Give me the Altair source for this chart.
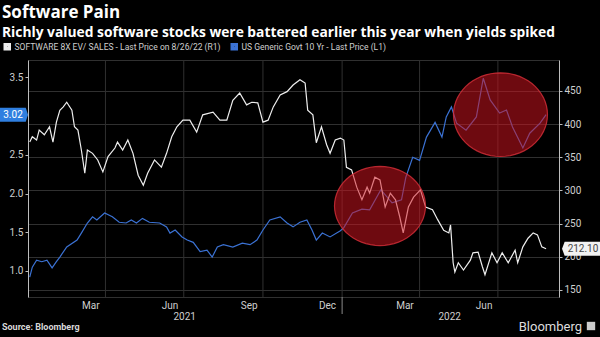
import math
import altair as alt
import pandas as pd

# ---------------- text ----------------
TITLE = "Software Pain"
SUBTITLE = "Richly valued software stocks were battered earlier this year when yields spiked"
SOURCE = "Source: Bloomberg"
BRAND = "Bloomberg"
SERIES = ["SOFTWARE 8X EV/ SALES - Last Price on 8/26/22 (R1)",
          "US Generic Govt 10 Yr - Last Price (L1)"]
COLORS = ["#eeeeee", "#3b72d4"]

# ---------------- data ----------------
soft_dates = [
    "2021-01-03", "2021-01-06", "2021-01-11", "2021-01-14", "2021-01-20", "2021-01-26", "2021-01-30",
    "2021-02-03", "2021-02-07", "2021-02-11", "2021-02-15", "2021-02-21", "2021-02-24", "2021-02-28",
    "2021-03-04", "2021-03-08", "2021-03-11", "2021-03-17", "2021-03-23", "2021-03-29", "2021-04-04",
    "2021-04-12", "2021-04-15", "2021-04-21", "2021-04-27", "2021-05-03", "2021-05-09", "2021-05-15",
    "2021-05-20", "2021-05-28", "2021-06-05", "2021-06-11", "2021-06-17", "2021-06-23", "2021-06-30",
    "2021-07-08", "2021-07-16", "2021-07-23", "2021-08-04", "2021-08-12", "2021-08-20", "2021-08-27",
    "2021-09-04", "2021-09-12", "2021-09-18", "2021-09-25", "2021-10-01", "2021-10-07", "2021-10-13",
    "2021-10-21", "2021-10-29", "2021-11-05", "2021-11-13", "2021-11-19", "2021-11-22", "2021-11-28",
    "2021-12-02", "2021-12-08", "2021-12-14", "2021-12-18", "2021-12-24", "2021-12-30", "2022-01-03",
    "2022-01-06", "2022-01-12", "2022-01-18", "2022-01-24", "2022-01-30", "2022-02-02", "2022-02-08",
    "2022-02-14", "2022-02-20", "2022-02-26", "2022-03-04", "2022-03-09", "2022-03-13", "2022-03-19",
    "2022-03-25", "2022-04-02", "2022-04-08", "2022-04-16", "2022-04-22", "2022-04-29", "2022-05-05",
    "2022-05-07", "2022-05-10", "2022-05-12", "2022-05-16", "2022-05-22", "2022-05-30", "2022-06-02",
    "2022-06-08", "2022-06-13", "2022-06-16", "2022-06-24", "2022-06-30", "2022-07-06", "2022-07-13",
    "2022-07-21", "2022-07-24", "2022-07-30", "2022-08-05", "2022-08-11", "2022-08-16", "2022-08-21",
    "2022-08-26",
]
soft_values = [
    373, 381, 376, 391, 384, 396, 373, 403, 421, 426, 433, 421, 396, 391, 361, 326, 361, 356, 346, 328,
    351, 364, 373, 361, 376, 356, 323, 308, 326, 346, 335, 356, 381, 396, 406, 406, 388, 414, 418, 406,
    406, 436, 447, 429, 433, 432, 403, 406, 426, 444, 449, 459, 467, 462, 421, 414, 372, 396, 369, 356,
    376, 379, 376, 335, 331, 305, 286, 305, 296, 320, 316, 275, 296, 286, 260, 236, 275, 290, 301, 275,
    271, 256, 240, 236, 248, 191, 177, 191, 180, 195, 206, 207, 185, 173, 206, 191, 206, 191, 210, 191,
    215, 228, 236, 233, 215, 212.10,
]

yield_dates = [
    "2021-01-03", "2021-01-06", "2021-01-11", "2021-01-17", "2021-01-23", "2021-01-29", "2021-02-03",
    "2021-02-07", "2021-02-15", "2021-02-27", "2021-03-04", "2021-03-11", "2021-03-17", "2021-03-22",
    "2021-03-31", "2021-04-09", "2021-04-17", "2021-04-25", "2021-05-01", "2021-05-07", "2021-05-14",
    "2021-05-22", "2021-06-03", "2021-06-11", "2021-06-15", "2021-06-21", "2021-06-29", "2021-07-05",
    "2021-07-12", "2021-07-20", "2021-07-28", "2021-08-03", "2021-08-09", "2021-08-16", "2021-08-27",
    "2021-09-07", "2021-09-16", "2021-09-24", "2021-10-01", "2021-10-09", "2021-10-21", "2021-10-29",
    "2021-11-05", "2021-11-13", "2021-11-21", "2021-11-27", "2021-12-02", "2021-12-09", "2021-12-18",
    "2021-12-30", "2022-01-03", "2022-01-13", "2022-01-24", "2022-02-02", "2022-02-15", "2022-02-28",
    "2022-03-11", "2022-03-16", "2022-03-24", "2022-04-01", "2022-04-09", "2022-04-19", "2022-04-27",
    "2022-05-02", "2022-05-08", "2022-05-14", "2022-05-25", "2022-06-06", "2022-06-14", "2022-06-22",
    "2022-07-03", "2022-07-11", "2022-07-18", "2022-07-30", "2022-08-07", "2022-08-19", "2022-08-26",
]
yield_values = [
    0.92, 1.05, 1.14, 1.12, 1.14, 1.04, 1.12, 1.18, 1.31, 1.40, 1.49, 1.62, 1.70, 1.66, 1.75, 1.70,
    1.63, 1.62, 1.66, 1.62, 1.68, 1.63, 1.62, 1.57, 1.49, 1.53, 1.44, 1.40, 1.37, 1.25, 1.27, 1.18,
    1.31, 1.34, 1.31, 1.36, 1.34, 1.40, 1.53, 1.66, 1.70, 1.62, 1.57, 1.63, 1.66, 1.53, 1.40, 1.49,
    1.44, 1.52, 1.56, 1.75, 1.80, 1.79, 2.05, 1.88, 1.92, 2.21, 2.47, 2.43, 2.73, 2.92, 2.73, 2.99,
    3.12, 2.91, 2.82, 2.99, 3.49, 3.21, 3.04, 3.08, 2.86, 2.59, 2.78, 2.91, 3.02,
]

# axis / annotation values
month_ticks = [
    "2021-01-01", "2021-02-01", "2021-03-01", "2021-04-01", "2021-05-01", "2021-06-01", "2021-07-01",
    "2021-08-01", "2021-09-01", "2021-10-01", "2021-11-01", "2021-12-01", "2022-01-01", "2022-02-01",
    "2022-03-01", "2022-04-01", "2022-05-01", "2022-06-01", "2022-07-01", "2022-08-01", "2022-09-01",
]
grid_dates = ["2021-04-01", "2021-07-01", "2021-10-01", "2022-01-01", "2022-04-01", "2022-07-01"]
month_label_dates = ["2021-03-15", "2021-06-15", "2021-09-15", "2021-12-15", "2022-03-15", "2022-06-15"]
month_labels = ["Mar", "Jun", "Sep", "Dec", "Mar", "Jun"]
year_label_dates = ["2021-07-02", "2022-05-06"]
year_labels = ["2021", "2022"]
year_break = ["2022-01-01"]
left_ticks = [1.0, 1.5, 2.0, 2.5, 3.5]
right_ticks = [150, 200, 250, 300, 350, 400, 450]
left_domain = [0.664, 3.726]
right_domain = [139.4, 496.7]
x_domain = ["2021-01-01", "2022-09-10"]
ellipse_dates = ["2022-02-14", "2022-07-04"]
ellipse_values = [1.84, 3.02]

# ---------------- layout ----------------
W, H = 531, 237
PAD = {"left": 28, "top": 60, "right": 41, "bottom": 40}
GRID = "#303030"
AXC = "#bdbdbd"
LBL = "#cfcfcf"


def dt(s):
    y, m, d = (int(p) for p in s.split("-"))
    return alt.DateTime(year=y, month=m, date=d)


xscale = alt.Scale(domain=[dt(d) for d in x_domain], nice=False)
lscale = alt.Scale(domain=left_domain, nice=False, zero=False)
rscale = alt.Scale(domain=right_domain, nice=False, zero=False)


def ellipse_path(ratio, n=60):
    pts = []
    for k in range(n):
        a = 2 * math.pi * k / n
        pts.append(f"{math.cos(a):.4f} {ratio * math.sin(a):.4f}")
    return "M " + " L ".join(pts) + " Z"


legend = alt.Legend(
    title=None, orient="none", legendX=-25, legendY=-18, direction="horizontal",
    symbolType="square", symbolSize=16, symbolStrokeWidth=3.5, labelFont="Roboto",
    labelFontSize=8.5, labelColor=LBL, columnPadding=4, labelLimit=400, padding=0,
    labelOffset=3,
)
color = alt.Color("series:N", scale=alt.Scale(domain=SERIES, range=COLORS), legend=legend)

soft_df = pd.DataFrame({"date": pd.to_datetime(soft_dates), "value": soft_values, "series": SERIES[0]})
yld_df = pd.DataFrame({"date": pd.to_datetime(yield_dates), "value": yield_values, "series": SERIES[1]})

# vertical grid lines
vgrid = alt.Chart(pd.DataFrame({"date": pd.to_datetime(grid_dates)})).mark_rule(
    color=GRID, strokeWidth=1
).encode(
    x=alt.X("date:T", scale=xscale,
            axis=alt.Axis(values=[dt(d) for d in month_ticks], labels=False, grid=False,
                          tickSize=3, title=None, domainColor=AXC, tickColor=AXC)),
    y=alt.value(0), y2=alt.value(H),
)

# year divider below axis
ybreak = alt.Chart(pd.DataFrame({"date": pd.to_datetime(year_break)})).mark_rule(
    color="#8a8a8a", strokeWidth=1
).encode(x=alt.X("date:T", scale=xscale, axis=None), y=alt.value(H), y2=alt.value(H + 17))

mlabels = alt.Chart(pd.DataFrame({"date": pd.to_datetime(month_label_dates), "t": month_labels})).mark_text(
    font="Roboto", fontSize=10, color=LBL, baseline="middle", align="center"
).encode(x=alt.X("date:T", scale=xscale, axis=None), y=alt.value(H + 9), text="t:N")

ylabels = alt.Chart(pd.DataFrame({"date": pd.to_datetime(year_label_dates), "t": year_labels})).mark_text(
    font="Roboto", fontSize=10, color=LBL, baseline="middle", align="center"
).encode(x=alt.X("date:T", scale=xscale, axis=None), y=alt.value(H + 20), text="t:N")

white = alt.Chart(soft_df).mark_line(strokeWidth=1.2).encode(
    x=alt.X("date:T", scale=xscale, axis=None),
    y=alt.Y("value:Q", scale=rscale,
            axis=alt.Axis(orient="right", values=right_ticks, format="d", grid=True, gridColor=GRID,
                          tickSize=3, labelPadding=2, title=None, domainColor=AXC, tickColor=AXC,
                          labelColor=LBL, labelFont="Roboto", labelFontSize=10)),
    color=color,
)

blue = alt.Chart(yld_df).mark_line(strokeWidth=1.2).encode(
    x=alt.X("date:T", scale=xscale, axis=None),
    y=alt.Y("value:Q", scale=lscale,
            axis=alt.Axis(orient="left", values=left_ticks, format=".1f", grid=False,
                          tickSize=3, labelPadding=2, title=None, domainColor=AXC, tickColor=AXC,
                          labelColor=LBL, labelFont="Roboto", labelFontSize=10)),
    color=color,
)

ell_df = pd.DataFrame({"date": pd.to_datetime(ellipse_dates), "v": ellipse_values})
ell1 = alt.Chart(ell_df.iloc[[0]]).mark_point(
    shape=ellipse_path(0.87), size=91 ** 2, filled=True, fill="#d2141e", fillOpacity=0.52,
    stroke="#d8303a", strokeWidth=1.2, strokeOpacity=0.8,
).encode(x=alt.X("date:T", scale=xscale, axis=None), y=alt.Y("v:Q", scale=lscale, axis=None))
ell2 = alt.Chart(ell_df.iloc[[1]]).mark_point(
    shape=ellipse_path(0.89), size=94 ** 2, filled=True, fill="#d2141e", fillOpacity=0.52,
    stroke="#d8303a", strokeWidth=1.2, strokeOpacity=0.8,
).encode(x=alt.X("date:T", scale=xscale, axis=None), y=alt.Y("v:Q", scale=lscale, axis=None))

# last-value tags
ltag_df = pd.DataFrame({"v": [yield_values[-1]], "t": [f"{yield_values[-1]:.2f}"]})
ltag_box = alt.Chart(ltag_df).mark_point(
    shape="M -1 -0.5 L 0.84 -0.5 L 1 0 L 0.84 0.5 L -1 0.5 Z", size=28 ** 2, filled=True,
    color="#2f7fe0", opacity=1,
).encode(x=alt.value(-14), y=alt.Y("v:Q", scale=lscale, axis=None))
ltag_txt = alt.Chart(ltag_df).mark_text(
    font="Roboto", fontSize=10, color="#ffffff", align="center", baseline="middle"
).encode(x=alt.value(-15), y=alt.Y("v:Q", scale=lscale, axis=None), text="t:N")

rtag_df = pd.DataFrame({"v": [soft_values[-1]], "t": [f"{soft_values[-1]:.2f}"]})
rtag_box = alt.Chart(rtag_df).mark_point(
    shape="M -1 0 L -0.86 -0.37 L 1 -0.37 L 1 0.37 L -0.86 0.37 Z", size=38 ** 2, filled=True,
    color="#f2f2f2", opacity=1,
).encode(x=alt.value(553), y=alt.Y("v:Q", scale=rscale, axis=None))
rtag_txt = alt.Chart(rtag_df).mark_text(
    font="Roboto", fontSize=10, color="#444444", align="center", baseline="middle"
).encode(x=alt.value(555), y=alt.Y("v:Q", scale=rscale, axis=None), text="t:N")


def label(text, x, y, size, weight="normal", color="#ffffff", align="left", font="Roboto"):
    return alt.Chart(pd.DataFrame({"t": [text]})).mark_text(
        align=align, baseline="middle", fontSize=size, fontWeight=weight, color=color, font=font
    ).encode(x=alt.value(x), y=alt.value(y), text="t:N")


title = label(TITLE, -26, -47, 17, "bold", "#ffffff", font="Open Sans")
subtitle = label(SUBTITLE, -26, -27.5, 13.8, "bold", "#ffffff", font="Open Sans")
source = label(SOURCE, -26, 267, 9, "bold", "#d8d8d8")
brand = label(BRAND, 554, 267, 13, "normal", "#dddddd", align="right")
icon = alt.Chart(pd.DataFrame({"t": [""]})).mark_point(
    shape="square", size=70, filled=True, color="#cccccc", opacity=1
).encode(x=alt.value(563), y=alt.value(266))

chart = alt.layer(
    vgrid, ybreak, mlabels, ylabels, blue, white, ell1, ell2,
    ltag_box, ltag_txt, rtag_box, rtag_txt, title, subtitle, source, brand, icon,
).resolve_scale(y="independent").properties(
    width=W, height=H, autosize=alt.AutoSizeParams(type="none"), padding=PAD,
    background="#000000",
).configure_view(stroke=GRID, strokeWidth=1)

chart.save("out.html", embed_options={"renderer": "svg", "actions": False})
